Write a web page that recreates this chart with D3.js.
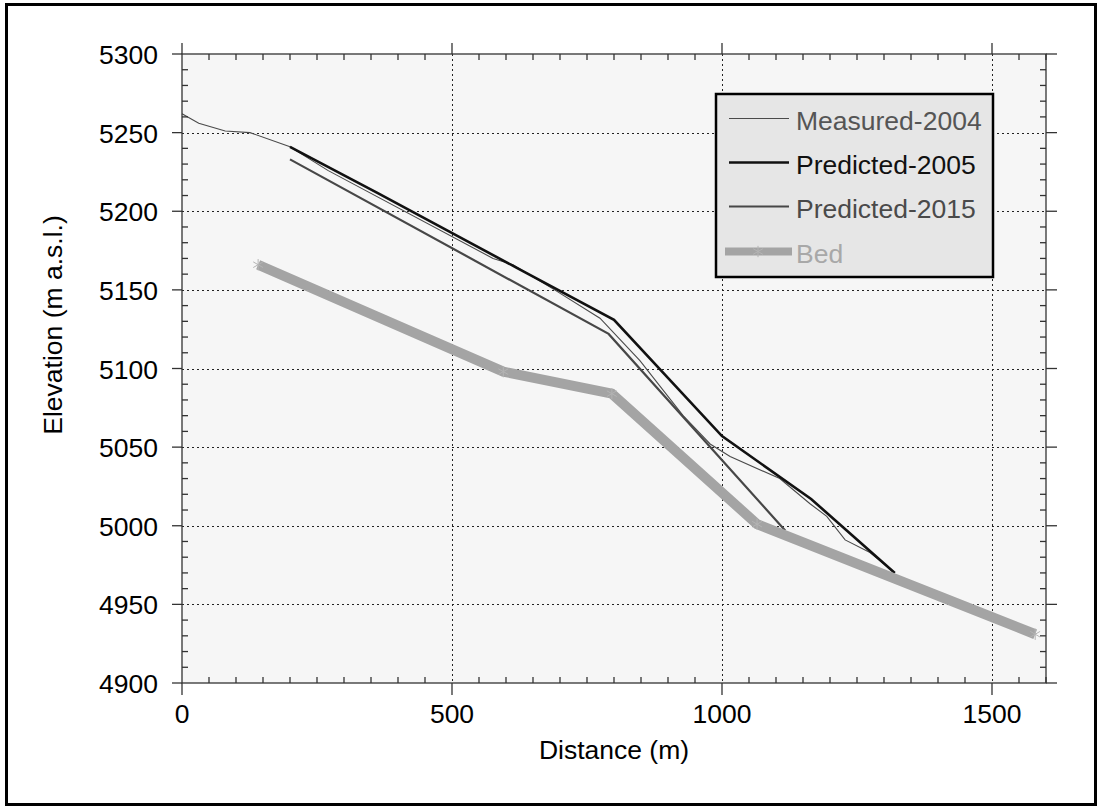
<!DOCTYPE html>
<html>
<head>
<meta charset="utf-8">
<script src="https://cdn.jsdelivr.net/npm/d3@7"></script>
<style>
  html, body { margin: 0; padding: 0; background: #fff; }
  svg text { font-family: "Liberation Sans", Arial, sans-serif; }
</style>
</head>
<body>
<svg id="chart" width="1101" height="809"></svg>
<script>
// ---------------- data ----------------
const measuredX = [0, 31, 80, 126, 200, 270, 576, 613, 690, 774, 848, 928, 978, 1015, 1107, 1163, 1194, 1228, 1274, 1317];
const measuredY = [5262, 5256, 5251, 5250, 5241, 5226, 5170, 5166, 5150, 5132, 5105, 5070, 5052, 5044, 5030, 5014, 5006, 4991, 4983, 4971];

const pred2005X = [200, 360, 620, 800, 1000, 1165, 1320];
const pred2005Y = [5241, 5212, 5164, 5131, 5057, 5017, 4970];

const pred2015X = [200, 790, 1117];
const pred2015Y = [5233, 5122, 4997];

const bedX = [141, 595, 796, 1065, 1580];
const bedY = [5166, 5098, 5084, 5001, 4931];

const xTicks = [0, 500, 1000, 1500];
const yTicks = [4900, 4950, 5000, 5050, 5100, 5150, 5200, 5250, 5300];
const legendLabels = ["Measured-2004", "Predicted-2005", "Predicted-2015", "Bed"];

// ---------------- layout ----------------
const svg = d3.select("#chart");
const L = 182, R = 1046, T = 54, B = 683;
const x = d3.scaleLinear().domain([0, 1600]).range([L, R]);
const y = d3.scaleLinear().domain([4900, 5300]).range([B, T]);
const FS = 26.5;

// outer frame
svg.append("rect").attr("x", 6.5).attr("y", 4.5).attr("width", 1089).attr("height", 800)
  .attr("fill", "#fff").attr("stroke", "#000").attr("stroke-width", 3);

// plot background
svg.append("rect").attr("x", L).attr("y", T).attr("width", R - L).attr("height", B - T)
  .attr("fill", "#f6f6f6");

// grid
const grid = svg.append("g").attr("stroke", "#222").attr("stroke-width", 1).attr("stroke-dasharray", "2,3");
xTicks.filter(d => d > 0).forEach(d => {
  grid.append("line").attr("x1", Math.round(x(d)) + 0.5).attr("x2", Math.round(x(d)) + 0.5)
    .attr("y1", T).attr("y2", B);
});
yTicks.filter(d => d > 4900 && d < 5300).forEach(d => {
  grid.append("line").attr("y1", Math.round(y(d)) + 0.5).attr("y2", Math.round(y(d)) + 0.5)
    .attr("x1", L).attr("x2", R);
});

// series
const line = d3.line().x(d => x(d[0])).y(d => y(d[1]));
const zip = (a, b) => a.map((v, i) => [v, b[i]]);

const series = [
  { name: legendLabels[0], pts: zip(measuredX, measuredY), color: "#4a4a4a", width: 1.1, text: "#555555" },
  { name: legendLabels[1], pts: zip(pred2005X, pred2005Y), color: "#111111", width: 2.6, text: "#111111" },
  { name: legendLabels[2], pts: zip(pred2015X, pred2015Y), color: "#474747", width: 2.2, text: "#4a4a4a" },
  { name: legendLabels[3], pts: zip(bedX, bedY), color: "#a4a4a4", width: 10, text: "#a8a8a8" }
];

series.forEach(s => {
  svg.append("path").attr("d", line(s.pts)).attr("fill", "none")
    .attr("stroke", s.color).attr("stroke-width", s.width)
    .attr("stroke-linejoin", "miter").attr("stroke-linecap", "butt");
});

// bed markers
const star = d3.symbol().type(d3.symbolAsterisk).size(90);
svg.append("g").selectAll("path").data(series[3].pts).join("path")
  .attr("d", star).attr("transform", d => `translate(${x(d[0])},${y(d[1])})`)
  .attr("fill", "none").attr("stroke", "#b4b4b4").attr("stroke-width", 1);

// axes box
const ax = svg.append("g").attr("stroke", "#333").attr("stroke-width", 1.3).attr("fill", "none");
ax.append("rect").attr("x", L).attr("y", T).attr("width", R - L).attr("height", B - T);

// x ticks
d3.range(0, 1601, 50).forEach(d => {
  const px = x(d);
  const major = xTicks.includes(d);
  if (major) {
    ax.append("line").attr("x1", px).attr("x2", px).attr("y1", B).attr("y2", B + 12);
    ax.append("line").attr("x1", px).attr("x2", px).attr("y1", T).attr("y2", T - 11);
  } else {
    ax.append("line").attr("x1", px).attr("x2", px).attr("y1", B).attr("y2", B - 6);
    ax.append("line").attr("x1", px).attr("x2", px).attr("y1", T).attr("y2", T + 6);
  }
});
// y ticks
d3.range(4900, 5301, 10).forEach(d => {
  const py = y(d);
  const major = yTicks.includes(d);
  if (major) {
    ax.append("line").attr("x1", L).attr("x2", L - 10).attr("y1", py).attr("y2", py);
    ax.append("line").attr("x1", R).attr("x2", R + 11).attr("y1", py).attr("y2", py);
  } else {
    ax.append("line").attr("x1", L).attr("x2", L + 6).attr("y1", py).attr("y2", py);
    ax.append("line").attr("x1", R).attr("x2", R - 6).attr("y1", py).attr("y2", py);
  }
});

// tick labels
svg.append("g").selectAll("text").data(xTicks).join("text")
  .attr("x", d => x(d)).attr("y", 723).attr("text-anchor", "middle")
  .attr("font-size", FS).attr("fill", "#000").text(d => d);
svg.append("g").selectAll("text").data(yTicks).join("text")
  .attr("x", 158).attr("y", d => y(d) + 10).attr("text-anchor", "end")
  .attr("font-size", FS).attr("fill", "#000").text(d => d);

// axis labels
svg.append("text").attr("x", (L + R) / 2).attr("y", 759).attr("text-anchor", "middle")
  .attr("font-size", FS).attr("fill", "#000").text("Distance (m)");
svg.append("text").attr("transform", "translate(62,325) rotate(-90)").attr("text-anchor", "middle")
  .attr("font-size", FS).attr("fill", "#000").text("Elevation (m a.s.l.)");

// legend
const lg = svg.append("g");
lg.append("rect").attr("x", 716).attr("y", 94).attr("width", 277).attr("height", 183)
  .attr("fill", "#e6e6e6").attr("stroke", "#000").attr("stroke-width", 2.5);
const rowY = [118.5, 162.5, 206.5, 251.5];
series.forEach((s, i) => {
  const isBed = i === 3;
  lg.append("line").attr("x1", isBed ? 725 : 729).attr("x2", isBed ? 792 : 789)
    .attr("y1", rowY[i]).attr("y2", rowY[i])
    .attr("stroke", s.color).attr("stroke-width", isBed ? 8 : s.width);
  if (isBed) {
    lg.append("path").attr("d", star).attr("transform", `translate(758,${rowY[i]})`)
      .attr("fill", "none").attr("stroke", "#b4b4b4").attr("stroke-width", 1);
  }
  lg.append("text").attr("x", 796).attr("y", rowY[i] + 11.5)
    .attr("font-size", FS).attr("fill", s.text).text(s.name);
});
</script>
</body>
</html>
